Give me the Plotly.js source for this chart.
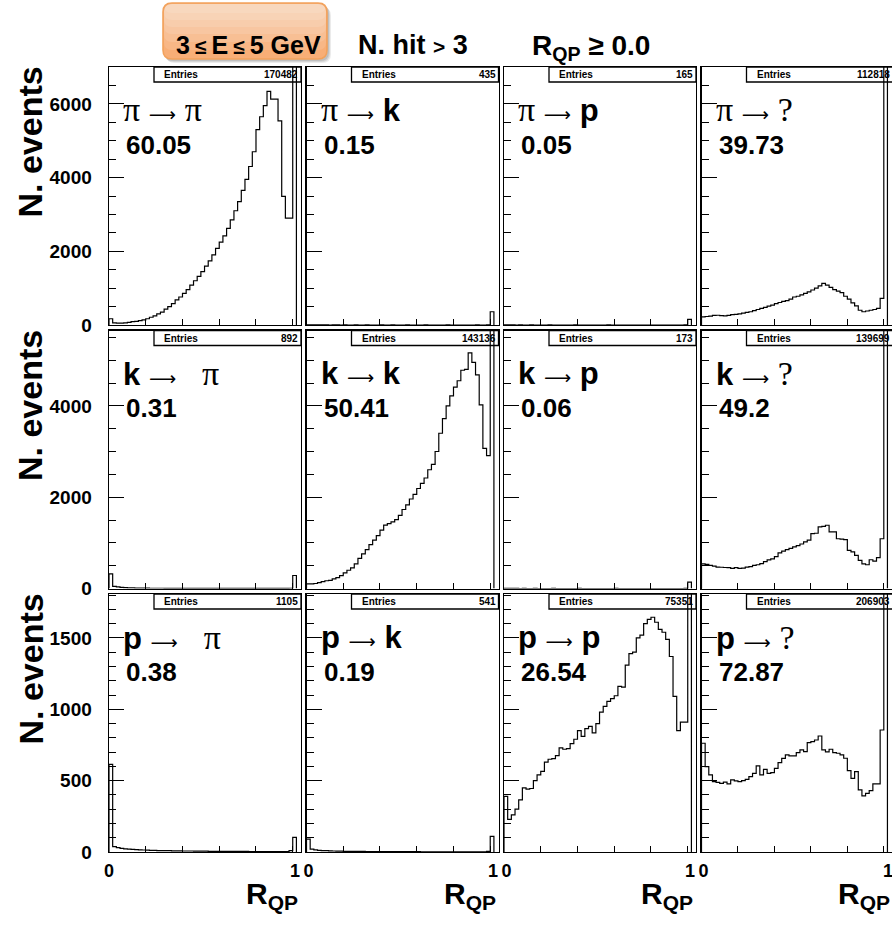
<!DOCTYPE html>
<html><head><meta charset="utf-8">
<script src="https://cdn.plot.ly/plotly-3.0.1.min.js"></script>
<style>html,body{margin:0;padding:0;background:#fff;}</style>
</head><body>
<div id="chart" style="width:892px;height:931px;"></div>
<script>
// ---------------- DATA ----------------
const binWidth = 0.2;           // R_QP bin width, bins start at 0
const fromLabels = ['π', 'k', 'p'];
const toLabels = ['π', 'k', 'p', '?'];
const pctFromPi = ['60.05', '0.15', '0.05', '39.73'];
const pctFromK  = ['0.31', '50.41', '0.06', '49.2'];
const pctFromP  = ['0.38', '0.19', '26.54', '72.87'];
const entriesFromPi = [170482, 435, 165, 112818];
const entriesFromK  = [892, 143136, 173, 139699];
const entriesFromP  = [1105, 541, 75351, 206903];
const yTickStepRows = [2000, 2000, 500];
const yMinorStepRows = [500, 500, 100];
const yMaxRows = [7000, 5650, 1808];
const xTickLabels = ['0', '10'];

const piToPi = [170,60,50,50,60,70,90,100,120,140,170,210,250,300,350,430,500,580,680,760,860,960,1080,1200,1320,1450,1600,1740,1900,2080,2250,2420,2620,2850,3100,3350,3650,3950,4300,4700,5300,5650,5950,6340,6130,6130,5540,3490,2900,2900,60000];
const piToK  = [3,2,1,2,1,1,0,1,1,0,1,0,0,1,0,0,1,0,0,0,1,0,0,1,0,0,0,1,0,0,0,0,1,0,0,0,0,0,1,0,0,0,0,0,0,0,1,0,0,5,360];
const piToP  = [2,1,1,0,1,0,0,1,0,0,0,0,1,0,0,0,0,0,0,1,0,0,0,0,0,0,0,0,1,0,0,0,0,0,0,0,0,0,0,0,0,0,0,0,0,0,0,0,0,3,150];
const piToQ  = [220,230,240,260,265,255,250,260,280,290,300,320,340,360,390,420,450,480,510,540,580,610,640,660,700,760,780,820,860,900,950,1000,1060,1130,1080,1020,960,920,880,780,700,600,520,400,360,380,400,420,450,720,40000];

const kToPi = [320,45,35,25,20,15,12,10,8,8,7,6,6,5,5,4,4,4,3,3,3,3,2,2,2,2,2,2,2,1,1,2,1,1,1,1,1,1,1,1,1,1,1,1,1,1,1,1,1,5,285];
const kToK  = [100,100,110,130,150,170,180,210,240,280,340,400,450,540,660,760,850,960,1060,1160,1280,1390,1420,1460,1510,1600,1730,1830,1960,2060,2190,2300,2420,2600,2720,3000,3400,3720,4000,4220,4410,4550,4780,4800,5160,4950,4680,4020,3070,2910,50000];
const kToP  = [2,1,1,1,0,1,0,0,1,0,0,0,0,1,0,0,0,0,0,0,1,0,0,0,0,0,0,0,0,0,1,0,0,0,0,0,0,0,0,0,0,0,0,0,0,0,0,0,0,3,140];
const kToQ  = [540,530,505,490,470,465,460,455,440,455,440,445,470,480,505,520,545,590,625,650,700,780,820,850,880,910,940,975,1020,1060,1200,1210,1350,1360,1385,1240,1240,1090,1080,1070,835,800,725,615,540,520,630,600,675,1090,50000];

const pToPi = [614,37,30,25,22,20,18,16,15,14,13,12,11,10,10,9,9,8,8,8,7,7,7,6,6,6,6,5,5,5,5,5,4,4,4,4,4,4,3,3,3,3,3,3,3,3,3,3,3,10,103];
const pToK  = [90,20,15,12,10,9,8,7,6,6,5,5,5,4,4,4,3,3,3,3,3,2,2,2,2,2,2,2,2,2,2,1,1,1,1,1,1,1,1,1,1,1,1,1,1,1,1,1,1,5,110];
const pToP  = [390,229,260,300,365,450,440,445,500,540,565,630,650,655,675,730,720,725,760,790,850,810,865,880,835,900,980,1020,1055,1075,1095,1160,1155,1310,1390,1400,1500,1520,1600,1630,1645,1610,1560,1540,1490,1370,1090,850,910,910,20000];
const pToQ  = [762,598,540,493,488,481,490,477,505,498,493,500,509,528,551,603,540,579,551,556,586,626,656,680,673,673,696,715,703,766,773,785,813,715,701,720,696,692,680,657,570,516,563,435,393,411,430,477,477,855,50000];

// ---------------- LAYOUT GEOMETRY ----------------
const W = 892, H = 931;
const colLeft = [109, 306.5, 504, 701.5];
const colW = 192;
const rowTop = [67, 330.5, 594];
const rowH = 258;
const xMax = 10.45;
const px = v => v / W;
const py = v => 1 - v / H;
const SANS = 'Liberation Sans, Arial, Helvetica, sans-serif';
const SERIF = "'Liberation Serif', 'Times New Roman', serif";

const panels = [[piToPi, piToK, piToP, piToQ], [kToPi, kToK, kToP, kToQ], [pToPi, pToK, pToP, pToQ]];
const pcts = [pctFromPi, pctFromK, pctFromP];
const entries = [entriesFromPi, entriesFromK, entriesFromP];

const traces = [];
const layout = {
  width: W, height: H, margin: {l: 0, r: 0, t: 0, b: 0},
  paper_bgcolor: '#fff', plot_bgcolor: '#fff', showlegend: false,
  font: {family: SANS, color: '#000'},
  shapes: [], annotations: []
};

function symHTML(s) {
  if (s === 'π' || s === '?') return `<span style="font-family:${SERIF};font-weight:normal;font-size:34px">${s}</span>`;
  return `<b>${s}</b>`;
}
const ARROW = `<span style="font-family:'DejaVu Sans';font-weight:normal;font-size:19px">⟶</span>`;

for (let r = 0; r < 3; r++) {
  for (let c = 0; c < 4; c++) {
    const idx = r * 4 + c + 1;
    const sfx = idx === 1 ? '' : String(idx);
    const vals = panels[r][c];
    const xs = [0], ys = [0];
    vals.forEach((v, i) => { xs.push(i * binWidth); ys.push(v); });
    xs.push(vals.length * binWidth); ys.push(0);
    traces.push({
      type: 'scatter', mode: 'lines', x: xs, y: ys,
      xaxis: 'x' + sfx, yaxis: 'y' + sfx,
      line: {shape: 'hv', color: '#000', width: 1.2},
      hoverinfo: 'skip'
    });
    const L = colLeft[c], T = rowTop[r];
    layout['xaxis' + sfx] = {
      domain: [px(L), px(L + colW)], range: [0, xMax], anchor: 'y' + sfx,
      showline: true, mirror: true, linecolor: '#000', linewidth: 1.4,
      ticks: 'inside', ticklen: 6, tickwidth: 1, tickcolor: '#000',
      tickmode: 'linear', tick0: 2, dtick: 2,
      showticklabels: false, showgrid: false, zeroline: false, fixedrange: true
    };
    layout['yaxis' + sfx] = {
      domain: [py(T + rowH), py(T)], range: [0, yMaxRows[r]], anchor: 'x' + sfx,
      showline: true, mirror: true, linecolor: '#000', linewidth: 1.4,
      ticks: 'inside', ticklen: 15, tickwidth: 1, tickcolor: '#000',
      tickmode: 'linear', tick0: 0, dtick: yTickStepRows[r],
      minor: {ticks: 'inside', ticklen: 7, tickwidth: 1, tickcolor: '#000', tickmode: 'linear', tick0: 0, dtick: yMinorStepRows[r]},
      showticklabels: c === 0, ticklabelstandoff: 12,
      tickfont: {family: SANS, size: 19, weight: 'bold', color: '#000'},
      showgrid: false, zeroline: false, fixedrange: true
    };
    // Entries box
    layout.shapes.push({type: 'rect', xref: 'paper', yref: 'paper',
      x0: px(L + 45), x1: px(L + colW), y0: py(T + 15), y1: py(T),
      line: {color: '#000', width: 1.3}, fillcolor: 'rgba(0,0,0,0)'});
    layout.annotations.push({xref: 'paper', yref: 'paper', x: px(L + 53), y: py(T + 7.5),
      xanchor: 'left', yanchor: 'middle', showarrow: false,
      text: '<b>Entries</b>', font: {family: SANS, size: 10}});
    layout.annotations.push({xref: 'paper', yref: 'paper', x: px(L + colW - 1), y: py(T + 7.5),
      xanchor: 'right', yanchor: 'middle', showarrow: false,
      text: '<b>' + entries[r][c] + '</b>', font: {family: SANS, size: 10}});
    // Transition label
    const gap = (r > 0 && c === 0) ? '\u00a0\u00a0\u00a0' : '\u00a0';
    layout.annotations.push({xref: 'paper', yref: 'paper', x: px(L + 12), y: py(T + 43),
      xanchor: 'left', yanchor: 'middle', showarrow: false,
      text: symHTML(fromLabels[r]) + '\u00a0' + ARROW + gap + symHTML(toLabels[c]),
      font: {family: SANS, size: 31}});
    layout.annotations.push({xref: 'paper', yref: 'paper', x: px(L + 15), y: py(T + 78),
      xanchor: 'left', yanchor: 'middle', showarrow: false,
      text: '<b>' + pcts[r][c] + '</b>', font: {family: SANS, size: 26}});
  }
  // y title
  layout.annotations.push({xref: 'paper', yref: 'paper', x: px(30), y: py(rowTop[r] - 2),
    xanchor: 'center', yanchor: 'top', showarrow: false, textangle: -90,
    text: '<b>N. events</b>', font: {family: SANS, size: 34}});
}
// x tick labels ("0" at the left of the first column, "10" at each column's right end)
layout.annotations.push({xref: 'paper', yref: 'paper', x: px(colLeft[0]), y: py(871),
  xanchor: 'center', yanchor: 'middle', showarrow: false,
  text: '<b>' + xTickLabels[0] + '</b>', font: {family: SANS, size: 18}});
for (let c = 0; c < 4; c++) {
  const R = colLeft[c] + colW;
  layout.annotations.push({xref: 'paper', yref: 'paper', x: px(R + 1), y: py(871),
    xanchor: 'center', yanchor: 'middle', showarrow: false,
    text: '<b>' + xTickLabels[1].split('').join('\u2009') + '</b>', font: {family: SANS, size: 18}});
  layout.annotations.push({xref: 'paper', yref: 'paper', x: px(R - 1), y: py(895),
    xanchor: 'right', yanchor: 'middle', showarrow: false,
    text: '<b>R<sub>QP</sub></b>', font: {family: SANS, size: 30}});
}
// Title box (decoration): shadow, orange rounded box, lighter bands towards the top
function roundRect(x0, y0, x1, y1, rad) {
  const X = v => px(v), Y = v => py(v);
  return `M${X(x0 + rad)},${Y(y0)} L${X(x1 - rad)},${Y(y0)} Q${X(x1)},${Y(y0)} ${X(x1)},${Y(y0 + rad)} ` +
    `L${X(x1)},${Y(y1 - rad)} Q${X(x1)},${Y(y1)} ${X(x1 - rad)},${Y(y1)} L${X(x0 + rad)},${Y(y1)} ` +
    `Q${X(x0)},${Y(y1)} ${X(x0)},${Y(y1 - rad)} L${X(x0)},${Y(y0 + rad)} Q${X(x0)},${Y(y0)} ${X(x0 + rad)},${Y(y0)} Z`;
}
const BX0 = 163, BY0 = 3, BX1 = 327, BY1 = 59;
[[4, 0.10], [3, 0.12], [2, 0.14]].forEach(([o, a]) => {
  layout.shapes.push({type: 'path', xref: 'paper', yref: 'paper', layer: 'below',
    path: roundRect(BX0 + o - 1, BY0 + o, BX1 + o, BY1 + o, 9),
    fillcolor: `rgba(60,60,60,${a})`, line: {width: 0}});
});
layout.shapes.push({type: 'path', xref: 'paper', yref: 'paper',
  path: roundRect(BX0, BY0, BX1, BY1, 9), fillcolor: '#f8ae76', line: {width: 0}});
[47, 39, 31, 24, 17, 10].forEach(h => {
  layout.shapes.push({type: 'path', xref: 'paper', yref: 'paper',
    path: roundRect(BX0 + 1, BY0 + 1, BX1 - 1, BY0 + h, 8), fillcolor: 'rgba(255,255,255,0.12)', line: {width: 0}});
});
layout.shapes.push({type: 'path', xref: 'paper', yref: 'paper',
  path: roundRect(BX0, BY0, BX1, BY1, 9), fillcolor: 'rgba(0,0,0,0)', line: {color: '#f2a25c', width: 1.6}});

const TITLE_FONT = 'Liberation Sans, Arial, sans-serif';
const LE = '<span style="font-size:21px">≤</span>';
layout.annotations.push({xref: 'paper', yref: 'paper', x: px(248), y: py(45), xanchor: 'center', yanchor: 'middle',
  showarrow: false, text: `<b>3\u2009${LE}\u2009E\u2009${LE}\u20095 GeV</b>`, font: {family: TITLE_FONT, size: 25}});
layout.annotations.push({xref: 'paper', yref: 'paper', x: px(356), y: py(45), xanchor: 'left', yanchor: 'middle',
  showarrow: false, text: '<b>N. hit <span style="font-size:21px">></span> 3</b>', font: {family: TITLE_FONT, size: 27}});
layout.annotations.push({xref: 'paper', yref: 'paper', x: px(530), y: py(48), xanchor: 'left', yanchor: 'middle',
  showarrow: false, text: '<b>R<sub>QP</sub> ≥ 0.0</b>', font: {family: TITLE_FONT, size: 28}});

Plotly.newPlot('chart', traces, layout, {staticPlot: true, displayModeBar: false});
</script>
</body></html>
